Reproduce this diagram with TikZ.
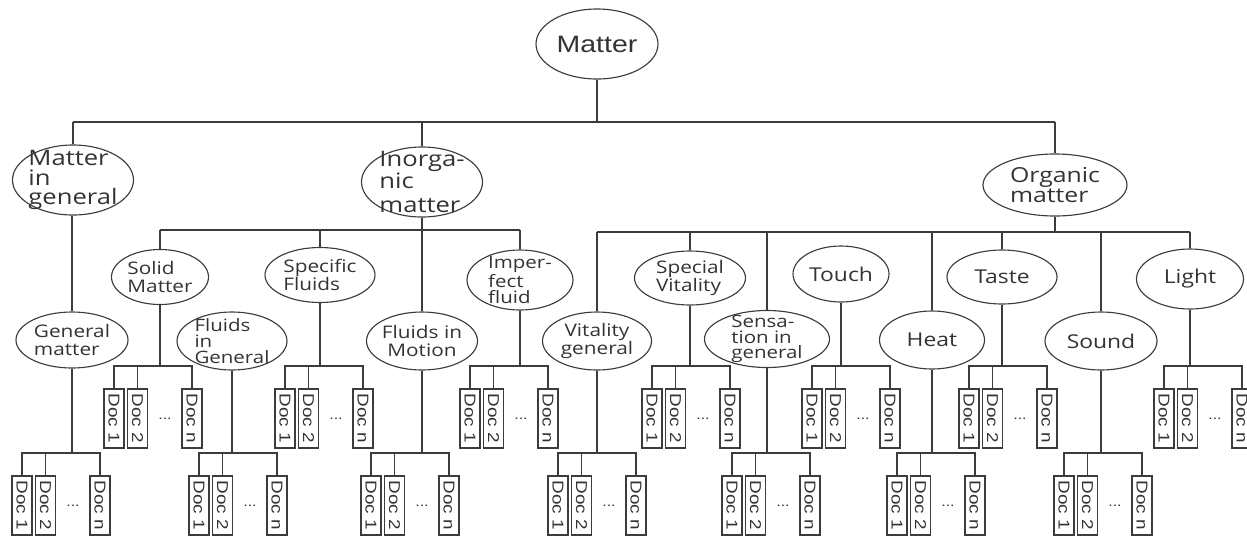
\documentclass[tikz,border=0pt]{standalone}
\usepackage{fontspec}
\setmainfont{Open Sans}[FakeStretch=1.2]
\newfontfamily\rootfont{Liberation Sans}[FakeStretch=1.2]
\usetikzlibrary{shapes.geometric}
\definecolor{ink}{HTML}{333333}
\definecolor{edge}{HTML}{3C3C3C}
\tikzset{
  topic/.style 2 args={ellipse, draw=edge, line width=0.85pt, inner sep=-40pt,
                       minimum width=#1*0.75pt, minimum height=#2*0.75pt,
                       text=ink, align=left, font=\fontsize{13}{13.5}\selectfont},
  bigtopic/.style={font=\fontsize{16}{14.8}\selectfont},
  tighttopic/.style={font=\fontsize{12.8}{11.8}\selectfont},
  wordtopic/.style={font=\fontsize{14.3}{15}\selectfont},
  docbox/.style={draw=edge, line width=0.85pt, minimum width=15pt, minimum height=44.25pt,
                 inner sep=0pt, text=ink, font=\rootfont\fontsize{11.8}{12}\selectfont},
  dotsnode/.style={inner sep=0pt, text=ink, font=\rootfont\fontsize{10}{10}\selectfont},
  link/.style={draw=edge, line width=0.85pt}
}
\begin{document}
\begin{tikzpicture}[x=0.75pt,y=-0.75pt]
\clip (0,0) rectangle (1247,537);
% root and first level
\node[topic={122}{70}, font=\rootfont\fontsize{17.8}{20}\selectfont] (matter) at (597,44) {Matter};
\node[topic={121}{70}, bigtopic] (mig) at (73,180) {Matter\\in\\general};
\node[topic={121}{70}, bigtopic] (inorg) at (422,182) {Inorga-\\nic\\[3pt]matter};
\node[topic={144}{62}, font=\fontsize{15.5}{14.5}\selectfont] (org) at (1055,185) {Organic\\matter};
% second level
\node[topic={112}{56}] (genm) at (72,340) {General\\matter};
\node[topic={97}{55}] (solid) at (160,277) {Solid\\Matter};
\node[topic={110}{55}] (specf) at (320,275) {Specific\\Fluids};
\node[topic={110}{58}, tighttopic] (fluidg) at (232,341) {Fluids\\in\\General};
\node[topic={111}{58}, align=center] (motion) at (422,341) {Fluids in\\Motion};
\node[topic={106}{60}, tighttopic] (imperf) at (520,280) {Imper-\\fect\\fluid};
\node[topic={109}{58}, align=center] (vital) at (597,341) {Vitality\\general};
\node[topic={111}{54}] (specv) at (690,278) {Special\\Vitality};
\node[topic={125}{57}, tighttopic] (sens) at (767,339) {Sensa-\\tion in\\general};
\node[topic={96}{56}, wordtopic] (touch) at (841,274) {Touch};
\node[topic={105}{58}, wordtopic] (heat) at (932,340) {Heat};
\node[topic={110}{54}, wordtopic] (taste) at (1002,277) {Taste};
\node[topic={112}{58}, wordtopic] (sound) at (1101,341) {Sound};
\node[topic={107}{60}, wordtopic] (light) at (1190,279) {Light};
% bars
\coordinate (bar0) at (0,122);
\coordinate (bar1) at (0,230);
\coordinate (bar2) at (0,232);
\draw[link] (matter.south) -- (matter.south |- bar0);
\draw[link] (mig.north |- bar0) -- (org.north |- bar0);
\foreach \c in {mig,inorg,org}
  \draw[link] (\c.north) -- (\c.north |- bar0);
\draw[link] (genm.north) -- (genm.north |- mig.south);
\draw[link] (inorg.south) -- (inorg.south |- bar1);
\draw[link] (solid.north |- bar1) -- (imperf.north |- bar1);
\foreach \c in {solid,specf,motion,imperf}
  \draw[link] (\c.north) -- (\c.north |- bar1);
\draw[link] (org.south) -- (org.south |- bar2);
\draw[link] (vital.north |- bar2) -- (light.north |- bar2);
\foreach \c in {vital,specv,sens,heat,taste,sound,light}
  \draw[link] (\c.north) -- (\c.north |- bar2);
% documents under each topic
\foreach \p/\x/\t in {solid/114/389, specf/285/389, imperf/470/389, specv/652/389,
                      touch/812/389, taste/969/389, light/1164/389,
                      genm/22/476, fluidg/199/476, motion/371/476, vital/558/476,
                      sens/732/476, heat/897/476, sound/1064/476}{
  \node[docbox] (\p-1) at (\x,\t+29.5) {\rotatebox{-90}{Doc 1}};
  \node[docbox] (\p-2) at (\x+23.5,\t+29.5) {\rotatebox{-90}{Doc 2}};
  \node[docbox] (\p-n) at (\x+78,\t+29.5) {\rotatebox{-90}{Doc n}};
  \node[dotsnode] (\p-dots) at (\x+51,\t+29.5) {...};
  \coordinate (\p-bar) at (\x,\t-23);
  \draw[link] (\p.south) -- (\p.south |- \p-bar);
  \draw[link] (\p-1.north) |- (\p-n.north |- \p-bar) -- (\p-n.north);
  \draw[link] (\p-2.north) -- (\p-2.north |- \p-bar);
}
\end{tikzpicture}
\end{document}
